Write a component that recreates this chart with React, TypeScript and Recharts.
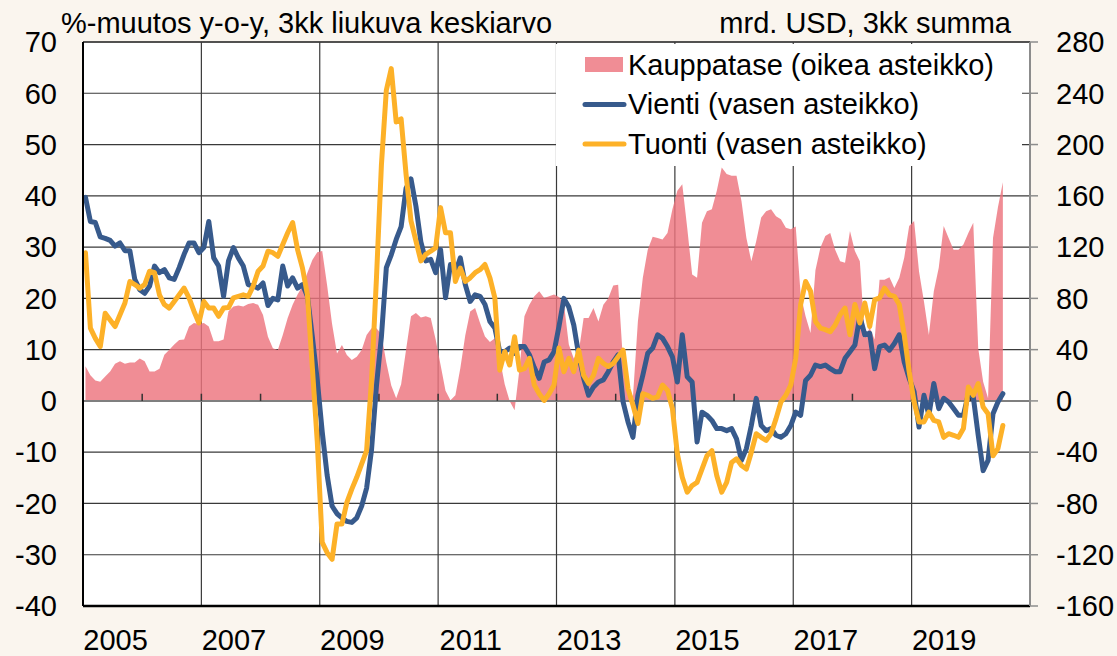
import {
  Area,
  CartesianGrid,
  ComposedChart,
  Legend,
  Line,
  ReferenceLine,
  XAxis,
  YAxis,
} from "recharts"

const FONT = '"Liberation Sans", Arial, Helvetica, sans-serif'
const BG = "#faf5ee"
const PINK = "#ed747e"
const BLUE = "#375a8c"
const ORANGE = "#fdb128"

const FIRST_YEAR = 2005
const LABEL_YEARS = [2005, 2007, 2009, 2011, 2013, 2015, 2017, 2019]
const GRID_YEARS = [2005, 2007, 2009, 2011, 2013, 2015, 2017, 2019, 2021]
const TICK_YEARS = [
  2006, 2007, 2008, 2009, 2010, 2011, 2012, 2013, 2014, 2015, 2016, 2017,
  2018, 2019, 2020, 2021,
]
const LEFT_TICKS = [-40, -30, -20, -10, 0, 10, 20, 30, 40, 50, 60, 70]
const RIGHT_TICKS = [-160, -120, -80, -40, 0, 40, 80, 120, 160, 200, 240, 280]

// monthly, Jan 2005 - Jul 2020
// Vienti, %-muutos y-o-y (3kk ka)
const VIENTI = [
  39.7, 35, 34.8, 32, 31.7, 31.3, 30.2, 30.8, 29.3, 29.3, 23.7, 21.7,
  21, 22.4, 26.3, 25, 25.6, 24, 23.7, 26, 28.6, 30.8, 30.8, 28.9,
  29.9, 35, 27.9, 26.3, 20.4, 27.3, 29.9, 27.9, 26.3, 22.7, 22.4, 22,
  23, 18.6, 20, 19.7, 26.3, 22.4, 24, 22, 22.7, 20.4, 12.5, 4,
  -6, -14.5, -20.5, -22, -22.8, -23.5, -23.7, -22.8, -20.5, -17, -9.5, 3,
  12.5, 26, 28.5, 31.5, 34, 41.5, 43.3, 38, 31, 27.3, 27.6, 25,
  29.5, 20.1, 26.6, 25, 27.9, 22.7, 19.4, 20.7, 20.4, 18.8, 15.5, 14.2,
  9.6, 9.6, 10.3, 9.3, 10.6, 10.6, 9, 6.5, 4.4, 7.6, 8, 9.6,
  14.5, 20, 18.3, 14.8, 9, 4.4, 1.1, 2.7, 3.7, 4.1, 5.7, 7.6,
  9, -0.2, -4.1, -7.1, 1.1, 5, 9.3, 10.3, 12.9, 12.2, 10.6, 8.6,
  3.7, 12.9, 4.7, 3.7, -8, -2.2, -2.8, -3.8, -5.4, -5.4, -5.8, -5.4,
  -7.4, -11.6, -9.3, -4.8, 0.5, -4.8, -5.8, -5.4, -6.7, -7.1, -6.4, -4.8,
  -2.2, -2.8, 4, 5, 7, 6.7, 7, 6.3, 5.7, 5.7, 8.3, 9.6,
  10.9, 16.5, 12.9, 13.2, 6.3, 10.6, 10.9, 9.9, 11.2, 12.9, 7.6, 4.4,
  1.8, -5.1, 1.1, -2.8, 3.4, -1.5, 0.5, -0.2, -1.5, -2.8, -2.8, 1.4,
  0.8, -6.7, -13.6, -11.6, -2.5, -0.2, 1.4,
]

// Tuonti, %-muutos y-o-y (3kk ka)
const TUONTI = [
  28.9, 14.2, 12.2, 10.6, 17.1, 15.8, 14.5, 16.8, 19.1, 23.3, 22.7, 22,
  22.7, 25.3, 25, 20.7, 18.8, 18.1, 19.4, 20.7, 22, 20.1, 17.5, 15.2,
  19.4, 18.1, 18.1, 16.5, 18.1, 18.2, 20.1, 20.4, 20.7, 20.4, 22.4, 25.3,
  26.3, 29.2, 28.9, 28.2, 30.5, 32.8, 34.8, 29.5, 25.9, 20.7, 6.5, -8,
  -27.6, -29.6, -30.9, -24, -24, -19.8, -17.2, -14.9, -12.3, -9.7, 4, 24,
  46, 60.6, 64.8, 54.4, 55, 44.2, 35.1, 31.2, 27.3, 28.6, 29.2, 29.9,
  37.7, 32.8, 32.8, 23.3, 25.9, 23.3, 24, 25, 25.6, 26.6, 24, 20.1,
  6, 9.6, 7, 12.5, 6, 6.3, 8.3, 3.1, 1.4, 0.1, 1.4, 3.1,
  10.3, 5.7, 8.3, 5.7, 9.9, 5, 3.4, 5, 8.3, 7.3, 6.7, 7.3,
  8.6, 9.9, 2.4, -0.8, -4.4, 1.4, 1.1, 0.5, 0.8, 3.1, 2.1, -1.5,
  -10.3, -14.9, -17.8, -16.5, -15.9, -13.3, -10.7, -9.7, -14.6, -17.8, -15.9, -12,
  -11.3, -12.6, -13.3, -10, -6.4, -7.1, -7.7, -6.4, -3.5, -0.2, 1.1, 3.1,
  8.3, 18.8, 23.3, 21.4, 15.5, 14.2, 13.9, 13.5, 14.8, 16.8, 18.1, 12.9,
  18.8, 15.2, 19.1, 14.5, 19.7, 20.1, 22, 20.7, 20.4, 18.8, 12.9, 5.7,
  -0.2, -4.1, -4.1, -2.2, -3.8, -4.1, -7.1, -6.4, -6.7, -7.1, -5.4, 2.7,
  1.1, 3.4, -1.2, -2.5, -10.7, -9.3, -4.8,
]

// Kauppatase, mrd. USD (3kk summa)
const KAUPPATASE = [
  27, 20, 16, 15, 19, 23, 29, 31, 29, 30, 30, 33,
  31, 23, 23, 25, 36, 40, 44, 47.6, 48, 58, 60.7, 60,
  60.7, 58, 46.5, 46.5, 48, 70, 73.7, 74.5, 73.7, 75.6, 76.3, 75,
  67, 50, 41, 39.7, 51.5, 64.6, 75, 83, 89.4, 100, 110, 116,
  117, 90, 60, 37, 43.7, 35.8, 31.9, 34.5, 39.7, 51.5, 56.7, 56.7,
  52, 30, 12, 2, 13, 40, 66, 68.5, 65, 66, 64.6, 48,
  28, 8, 0.5, 4.4, 25.4, 51, 69.8, 72.4, 60.7, 50.2, 46, 48.9,
  33, 13, 0, -7.3, 25, 66, 75, 81.6, 85.5, 80.3, 81.6, 83,
  81, 76, 44, 33, 38, 64.6, 64.6, 72.4, 62, 75, 80, 90,
  90.7, 30, 12, 3, 62, 96, 118, 128, 127, 126, 131, 149.5,
  164, 169, 135, 98.6, 96, 139, 148, 149.5, 164, 182, 177, 175.7,
  175.7, 156, 127, 109, 124.7, 143, 148, 149.5, 144, 141.7, 135, 134,
  136, 83, 66, 53, 102, 119.5, 128.6, 131, 118, 109, 107.7, 132.5,
  116.9, 109, 49, 57, 48, 94.6, 94.6, 96.5, 88, 96, 111.6, 136.5,
  140.4, 101, 77.6, 51.5, 85.5, 103.8, 136.5, 127, 118, 118, 122, 131,
  139, 41, 15, 2, 127, 151, 170.5,
]

const LEGEND = [
  { label: "Kauppatase (oikea asteikko)", color: "#f08d95", kind: "area" },
  { label: "Vienti (vasen asteikko)", color: BLUE, kind: "line" },
  { label: "Tuonti (vasen asteikko)", color: ORANGE, kind: "line" },
]

// points sit in the middle of their month
const data = VIENTI.map((v, i) => ({
  month: i + 0.5,
  vienti: v,
  tuonti: TUONTI[i],
  kauppatase: KAUPPATASE[i],
}))

const toMonth = (year: number) => (year - FIRST_YEAR) * 12

const tickStyle = { fill: "#000", fontSize: 29, fontFamily: FONT }

function ChartLegend() {
  return (
    <svg width={466} height={122} style={{ display: "block", background: "#fff" }}>
      {LEGEND.map((item, i) => {
        const cy = 20.5 + i * 39.5
        return (
          <g key={item.label}>
            {item.kind === "area" ? (
              <rect x={29} y={cy - 7.5} width={38} height={15} fill={item.color} />
            ) : (
              <line
                x1={29}
                x2={68}
                y1={cy + 0.5}
                y2={cy + 0.5}
                stroke={item.color}
                strokeWidth={5}
                strokeLinecap="round"
              />
            )}
            <text x={72} y={cy + 10.4} fontSize={29} fontFamily={FONT} fill="#000">
              {item.label}
            </text>
          </g>
        )
      })}
    </svg>
  )
}

export default function App() {
  return (
    <div
      style={{
        position: "absolute",
        left: 0,
        top: 0,
        width: 1117,
        height: 656,
        background: BG,
        fontFamily: FONT,
      }}
    >
      <ComposedChart
        width={1117}
        height={656}
        data={data}
        margin={{ top: 42, right: 7, bottom: 0, left: 3 }}
      >
        <CartesianGrid
          xAxisId="grid"
          yAxisId="left"
          stroke="#3a3a3a"
          strokeWidth={1.2}
          fill="#fff"
        />
        <XAxis
          xAxisId="grid"
          type="number"
          dataKey="month"
          domain={[0, 192]}
          ticks={GRID_YEARS.map(toMonth)}
          hide
        />
        <XAxis
          type="number"
          dataKey="month"
          domain={[0, 192]}
          ticks={LABEL_YEARS.map((y) => toMonth(y) + 6)}
          tickFormatter={(v) => String(FIRST_YEAR + Math.floor(v / 12))}
          interval={0}
          height={50}
          tickLine={false}
          tickSize={6}
          tickMargin={17}
          axisLine={{ stroke: "#000", strokeWidth: 2.5 }}
          tick={{ ...tickStyle, dx: 3 }}
        />
        <YAxis
          yAxisId="left"
          domain={[-40, 70]}
          ticks={LEFT_TICKS}
          interval={0}
          width={80}
          tickLine={false}
          tickSize={6}
          tickMargin={20}
          axisLine={{ stroke: "#000", strokeWidth: 2 }}
          tick={tickStyle}
        />
        <YAxis
          yAxisId="right"
          orientation="right"
          domain={[-160, 280]}
          ticks={RIGHT_TICKS}
          interval={0}
          width={80}
          tickSize={8}
          tickMargin={18}
          tickLine={{ stroke: "#8c8c8c", strokeWidth: 1.5 }}
          axisLine={{ stroke: "#8c8c8c", strokeWidth: 2 }}
          tick={tickStyle}
        />
        <Area
          yAxisId="right"
          type="linear"
          dataKey="kauppatase"
          baseValue={0}
          stroke="none"
          fill={PINK}
          fillOpacity={0.82}
          isAnimationActive={false}
        />
        <ReferenceLine yAxisId="left" y={70} stroke="#3a3a3a" strokeWidth={1.5} />
        <ReferenceLine yAxisId="left" y={0} stroke="#7f7f7f" strokeWidth={2} />
        {TICK_YEARS.map((y) => (
          <ReferenceLine
            key={y}
            yAxisId="left"
            segment={[
              { x: toMonth(y), y: 0 },
              { x: toMonth(y), y: 1.4 },
            ]}
            stroke="#333"
            strokeWidth={1.5}
          />
        ))}
        <Line
          yAxisId="left"
          type="linear"
          dataKey="vienti"
          stroke={BLUE}
          strokeWidth={5}
          strokeLinejoin="round"
          strokeLinecap="round"
          dot={false}
          activeDot={false}
          isAnimationActive={false}
        />
        <Line
          yAxisId="left"
          type="linear"
          dataKey="tuonti"
          stroke={ORANGE}
          strokeWidth={5}
          strokeLinejoin="round"
          strokeLinecap="round"
          dot={false}
          activeDot={false}
          isAnimationActive={false}
        />
        <Legend
          layout="vertical"
          align="center"
          verticalAlign="middle"
          content={() => <ChartLegend />}
          wrapperStyle={{ position: "absolute", left: 556, top: 44, width: 466, height: 122 }}
        />
      </ComposedChart>
      <svg
        width={1117}
        height={42}
        style={{ position: "absolute", left: 0, top: 0, pointerEvents: "none" }}
      >
        <text x={61} y={33} fontSize={29} fontFamily={FONT} fill="#000">
          %-muutos y-o-y, 3kk liukuva keskiarvo
        </text>
        <text x={1011} y={33} fontSize={29} fontFamily={FONT} fill="#000" textAnchor="end">
          mrd. USD, 3kk summa
        </text>
      </svg>
    </div>
  )
}
